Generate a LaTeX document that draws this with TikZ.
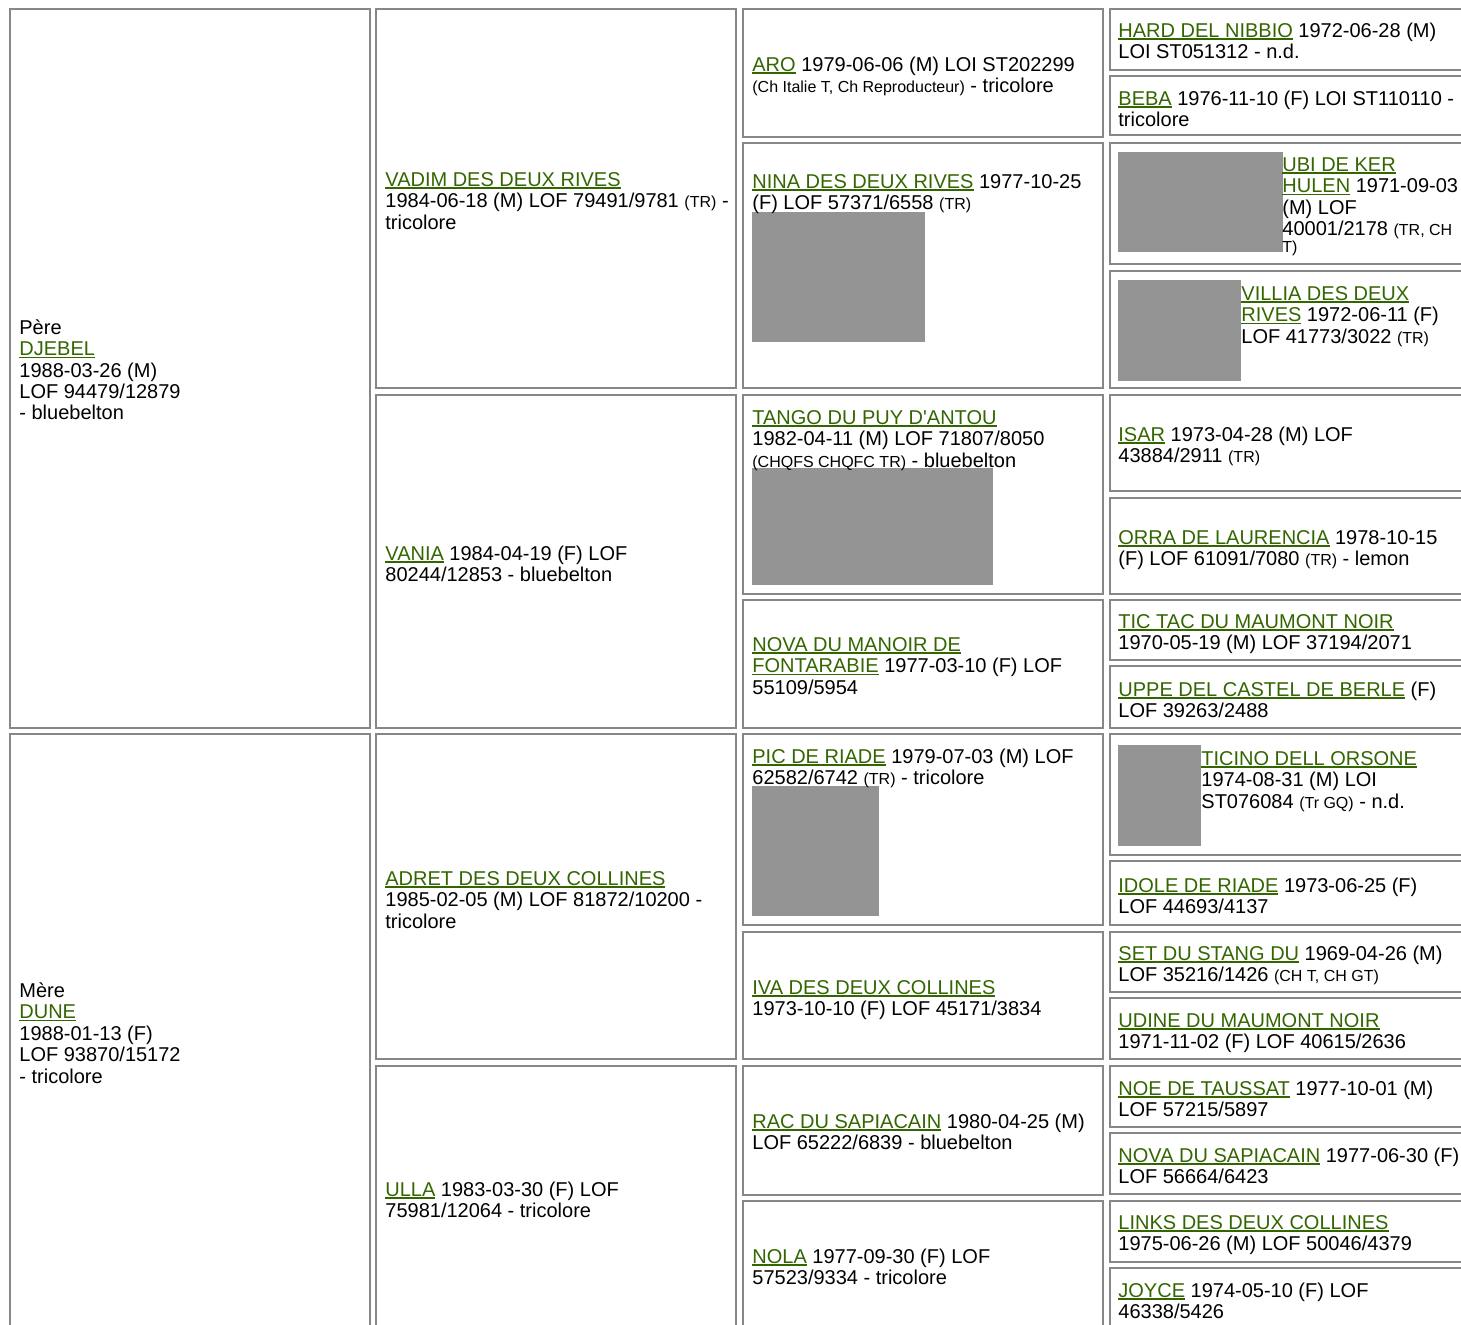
\documentclass[tikz,border=0pt]{standalone}
\usepackage{fontspec}
\setmainfont{Liberation Sans}
\definecolor{namegreen}{RGB}{51,102,0}
\definecolor{cellgray}{RGB}{135,135,135}
\newcommand{\nm}[1]{{\color{namegreen}\setbox0\hbox{\strut#1}\rlap{\rule[-1.2pt]{\wd0}{0.75pt}}\box0}}
\newcommand{\sm}{\fontsize{8}{10.7}\selectfont}

\begin{document}
\begin{tikzpicture}[x=0.5pt, y=-0.5pt,
    cell/.style={draw=cellgray, line width=1pt},
    photo/.style={fill=black!42},
    txt/.style={anchor=north west, inner sep=0pt, align=left, yshift=7.49pt, font=\fontsize{10}{10.7}\selectfont}]
    \useasboundingbox (0,0) rectangle (1461,1325);
    \clip (0,0) rectangle (1461,1325);

    % parents
    \foreach \a/\b in {9/728, 734/1340} {
        \draw[cell] (10,\a) rectangle (370,\b);
    }
    \node[txt] (pere) at (19,334) {\strut P\`ere\\ \nm{DJEBEL}\\ 1988-03-26 (M)\\ LOF 94479/12879\\ - bluebelton};
    \node[txt] (mere) at (19,997) {\strut M\`ere\\ \nm{DUNE}\\ 1988-01-13 (F)\\ LOF 93870/15172\\ - tricolore};

    % grandparents
    \foreach \a/\b in {9/388, 395/728, 734/1059, 1066/1340} {
        \draw[cell] (376,\a) rectangle (736,\b);
    }
    \node[txt] (vadim) at (385,186) {\nm{VADIM DES DEUX RIVES}\\ 1984-06-18 (M) LOF 79491/9781 {\sm (TR)} -\\ tricolore};
    \node[txt] (vania) at (385,560) {\nm{VANIA} 1984-04-19 (F) LOF\\ 80244/12853 - bluebelton};
    \node[txt] (adret) at (385,885) {\nm{ADRET DES DEUX COLLINES}\\ 1985-02-05 (M) LOF 81872/10200 -\\ tricolore};
    \node[txt] (ulla) at (385,1196) {\nm{ULLA} 1983-03-30 (F) LOF\\ 75981/12064 - tricolore};

    % great-grandparents
    \foreach \a/\b in {9/137, 143/388, 395/594, 600/728, 734/925, 932/1059, 1066/1195, 1201/1340} {
        \draw[cell] (743,\a) rectangle (1103,\b);
    }
    \fill[photo] (752,212) rectangle (925,342);
    \fill[photo] (752,468) rectangle (993,585);
    \fill[photo] (752,786) rectangle (879,916);
    \node[txt] (aro) at (752,71) {\nm{ARO} 1979-06-06 (M) LOI ST202299\\ {\sm (Ch Italie T, Ch Reproducteur)} - tricolore};
    \node[txt] (nina) at (752,188) {\nm{NINA DES DEUX RIVES} 1977-10-25\\ (F) LOF 57371/6558 {\sm (TR)}};
    \node[txt] (tango) at (752,424) {\nm{TANGO DU PUY D\textquotesingle ANTOU}\\ 1982-04-11 (M) LOF 71807/8050\\ {\sm (CHQFS CHQFC TR)} - bluebelton};
    \node[txt] (novaman) at (752,651) {\nm{NOVA DU MANOIR DE}\\ \nm{FONTARABIE} 1977-03-10 (F) LOF\\ 55109/5954};
    \node[txt] (pic) at (752,763) {\nm{PIC DE RIADE} 1979-07-03 (M) LOF\\ 62582/6742 {\sm (TR)} - tricolore};
    \node[txt] (iva) at (752,994) {\nm{IVA DES DEUX COLLINES}\\ 1973-10-10 (F) LOF 45171/3834};
    \node[txt] (rac) at (752,1128) {\nm{RAC DU SAPIACAIN} 1980-04-25 (M)\\ LOF 65222/6839 - bluebelton};
    \node[txt] (nola) at (752,1263) {\nm{NOLA} 1977-09-30 (F) LOF\\ 57523/9334 - tricolore};

    % great-great-grandparents
    \foreach \a/\b in {9/70, 76/135, 143/264, 271/388, 395/491, 498/594, 600/660, 666/728, 734/855, 861/925, 932/992, 998/1059, 1066/1127, 1133/1194, 1201/1262, 1268/1340} {
        \draw[cell] (1110,\a) rectangle (1480,\b);
    }
    \fill[photo] (1118,152) rectangle (1283,252);
    \fill[photo] (1118,280) rectangle (1241,381);
    \fill[photo] (1118,745) rectangle (1201,846);
    \node[txt] (hard) at (1118,37) {\nm{HARD DEL NIBBIO} 1972-06-28 (M)\\ LOI ST051312 - n.d.};
    \node[txt] (beba) at (1118,105) {\nm{BEBA} 1976-11-10 (F) LOI ST110110 -\\ tricolore};
    \node[txt] (ubi) at (1282,171) {\nm{UBI DE KER}\\ \nm{HULEN} 1971-09-03\\ (M) LOF\\ 40001/2178 {\sm (TR, CH}\\[-2pt] {\sm T)}};
    \node[txt] (villia) at (1241,300) {\nm{VILLIA DES DEUX}\\ \nm{RIVES} 1972-06-11 (F)\\ LOF 41773/3022 {\sm (TR)}};
    \node[txt] (isar) at (1118,441) {\nm{ISAR} 1973-04-28 (M) LOF\\ 43884/2911 {\sm (TR)}};
    \node[txt] (orra) at (1118,544) {\nm{ORRA DE LAURENCIA} 1978-10-15\\ (F) LOF 61091/7080 {\sm (TR)} - lemon};
    \node[txt] (tictac) at (1118,628) {\nm{TIC TAC DU MAUMONT NOIR}\\ 1970-05-19 (M) LOF 37194/2071};
    \node[txt] (uppe) at (1118,696) {\nm{UPPE DEL CASTEL DE BERLE} (F)\\ LOF 39263/2488};
    \node[txt] (ticino) at (1201,765) {\nm{TICINO DELL ORSONE}\\ 1974-08-31 (M) LOI\\ ST076084 {\sm (Tr GQ)} - n.d.};
    \node[txt] (idole) at (1118,892) {\nm{IDOLE DE RIADE} 1973-06-25 (F)\\ LOF 44693/4137};
    \node[txt] (set) at (1118,960) {\nm{SET DU STANG DU} 1969-04-26 (M)\\ LOF 35216/1426 {\sm (CH T, CH GT)}};
    \node[txt] (udine) at (1118,1027) {\nm{UDINE DU MAUMONT NOIR}\\ 1971-11-02 (F) LOF 40615/2636};
    \node[txt] (noe) at (1118,1095) {\nm{NOE DE TAUSSAT} 1977-10-01 (M)\\ LOF 57215/5897};
    \node[txt] (novasap) at (1118,1162) {\nm{NOVA DU SAPIACAIN} 1977-06-30 (F)\\ LOF 56664/6423};
    \node[txt] (links) at (1118,1229) {\nm{LINKS DES DEUX COLLINES}\\ 1975-06-26 (M) LOF 50046/4379};
    \node[txt] (joyce) at (1118,1297) {\nm{JOYCE} 1974-05-10 (F) LOF\\ 46338/5426};
\end{tikzpicture}
\end{document}
